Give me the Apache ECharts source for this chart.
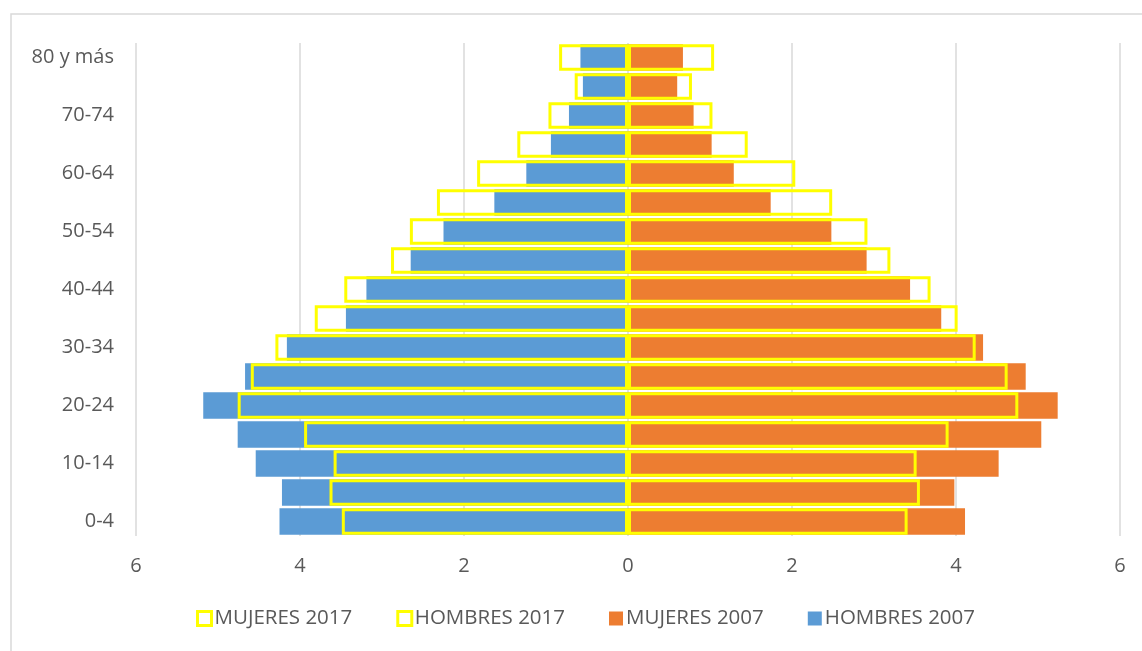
<!DOCTYPE html>
<html>
<head>
<meta charset="utf-8">
<script src="https://cdn.jsdelivr.net/npm/echarts@6/dist/echarts.min.js"></script>
<style>html,body{margin:0;padding:0;background:#fff;}#c{width:1142px;height:651px;}</style>
</head>
<body>
<div id="c"></div>
<script>
const categories = ['0-4','5-9','10-14','15-19','20-24','25-29','30-34','35-39','40-44','45-49','50-54','55-59','60-64','65-69','70-74','75-79','80 y más'];
const hombres2007 = [4.25,4.22,4.54,4.76,5.18,4.67,4.16,3.44,3.19,2.65,2.25,1.63,1.24,0.94,0.72,0.55,0.58];
const mujeres2007 = [4.11,3.98,4.52,5.04,5.24,4.85,4.33,3.82,3.44,2.91,2.48,1.74,1.29,1.02,0.80,0.60,0.67];
const hombres2017 = [3.49,3.64,3.59,3.95,4.76,4.60,4.30,3.82,3.46,2.89,2.66,2.33,1.84,1.35,0.97,0.65,0.84];
const mujeres2017 = [3.41,3.56,3.52,3.91,4.76,4.63,4.24,4.02,3.69,3.20,2.92,2.49,2.04,1.46,1.03,0.78,1.05];
const seriesNames = ['MUJERES 2017','HOMBRES 2017','MUJERES 2007','HOMBRES 2007'];

const font = '"Open Sans", "Liberation Sans", sans-serif';
const txt = '#595959';
const chart = echarts.init(document.getElementById('c'));
const outline = {color: 'rgba(0,0,0,0)', borderColor: '#FFFF00', borderWidth: 3};
chart.setOption({
  animation: false,
  graphic: [{type: 'rect', shape: {x: 11, y: 14, width: 1200, height: 700}, style: {fill: 'none', stroke: '#D9D9D9', lineWidth: 1.5}, silent: true}],
  grid: {left: 136, right: 22, top: 43, bottom: 115},
  legend: {
    bottom: 17, left: 191, itemGap: 44, itemWidth: 14, itemHeight: 14, icon: 'rect',
    textStyle: {color: txt, fontSize: 20.5, fontFamily: font, padding: [0,0,0,-2]},
    data: [
      {name: seriesNames[0], itemStyle: {color: '#fff', borderColor: '#FFFF00', borderWidth: 3}},
      {name: seriesNames[1], itemStyle: {color: '#fff', borderColor: '#FFFF00', borderWidth: 3}},
      {name: seriesNames[2]},
      {name: seriesNames[3]}
    ]
  },
  xAxis: {
    type: 'value', min: -6, max: 6, interval: 2,
    axisLine: {show: false}, axisTick: {show: false},
    splitLine: {lineStyle: {color: '#D9D9D9', width: 1.5}},
    axisLabel: {color: txt, fontSize: 20, fontFamily: font, margin: 20, formatter: v => Math.abs(v)}
  },
  yAxis: {
    type: 'category', data: categories,
    axisLine: {show: false, onZero: false}, axisTick: {show: false},
    axisLabel: {color: txt, fontSize: 20, fontFamily: font, margin: 22, interval: 1}
  },
  series: [
    {name: seriesNames[3], type: 'bar', data: hombres2007.map(v => -v), barWidth: '92%', barGap: '-100%', itemStyle: {color: '#5B9BD5'}},
    {name: seriesNames[2], type: 'bar', data: mujeres2007, barWidth: '92%', barGap: '-100%', itemStyle: {color: '#ED7D31'}},
    {name: seriesNames[1], type: 'bar', data: hombres2017.map(v => -v), barWidth: '92%', barGap: '-100%', itemStyle: outline},
    {name: seriesNames[0], type: 'bar', data: mujeres2017, barWidth: '92%', barGap: '-100%', itemStyle: outline}
  ]
});
</script>
</body>
</html>
